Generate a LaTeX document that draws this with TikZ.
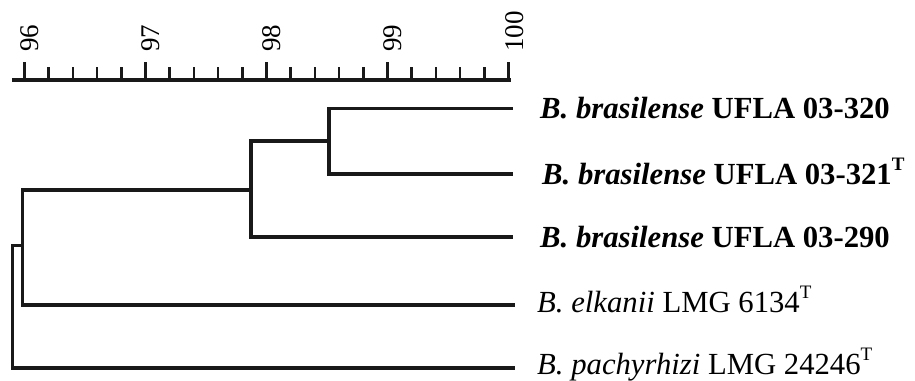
\documentclass[tikz,border=0pt]{standalone}
\usepackage{fontspec}
\setmainfont{Liberation Serif}
\newcommand{\supT}{\raisebox{14pt}{\fontsize{19}{19}\selectfont T}}
\tikzset{
  branch/.style={line width=3.2pt, line join=miter, line cap=rect, black!90},
  axisline/.style={line width=3.4pt, black!90},
  majortick/.style={line width=2.8pt, black!90},
  minortick/.style={line width=2.6pt, black!90},
  leaflab/.style={inner sep=0pt, anchor=base west, font=\fontsize{30.7}{36}\selectfont},
  numlab/.style={inner sep=0pt, rotate=90, anchor=west, font=\fontsize{27}{32}\selectfont},
}
\begin{document}
\begin{tikzpicture}[x=1pt,y=-1pt]
\useasboundingbox (0,0) rectangle (915,380);
% scale axis
\draw[axisline] (12,80) -- (511,80);
\foreach \k in {0,...,20} {
  \pgfmathsetmacro{\tx}{24.5+24.2*\k}
  \pgfmathtruncatemacro{\md}{mod(\k,5)}
  \ifnum\md=0
    \draw[majortick] (\tx,80) -- (\tx,62);
  \else
    \draw[minortick] (\tx,80) -- (\tx,67);
  \fi
}
\node[numlab] (a96) at (29.5,52) {96};
\node[numlab] (a97) at (150.5,52) {97};
\node[numlab] (a98) at (271.5,52) {98};
\node[numlab] (a99) at (392.5,52) {99};
\node[numlab] (a100) at (514.5,52) {100};
% tree
\coordinate (tip1) at (511,108.3);
\coordinate (tip2) at (511,174);
\coordinate (tip3) at (511,237);
\coordinate (tip4) at (513,305);
\coordinate (tip5) at (513,368);
\coordinate (nA) at (329,141);
\coordinate (nB) at (251,190);
\coordinate (nC) at (22.7,245.5);
\coordinate (nD) at (12.7,245.5);
\draw[branch] (tip1) -| (nA) |- (tip2);
\draw[branch] (nA) -| (nB) |- (tip3);
\draw[branch] (nB) -| (nC) |- (tip4);
\draw[branch] (nC) -| (nD) |- (tip5);
% leaf labels
\node[leaflab] (t1) at (540,118.8) {\bfseries\itshape B. brasilense \upshape UFLA 03-320};
\node[leaflab] (t2) at (542,184.5) {\bfseries\itshape B. brasilense \upshape UFLA 03-321\supT};
\node[leaflab] (t3) at (540,247.5) {\bfseries\itshape B. brasilense \upshape UFLA 03-290};
\node[leaflab] (t4) at (537,312) {\itshape B. elkanii \upshape LMG 6134\supT};
\node[leaflab] (t5) at (537,374) {\itshape B. pachyrhizi \upshape LMG 24246\supT};
\end{tikzpicture}
\end{document}
